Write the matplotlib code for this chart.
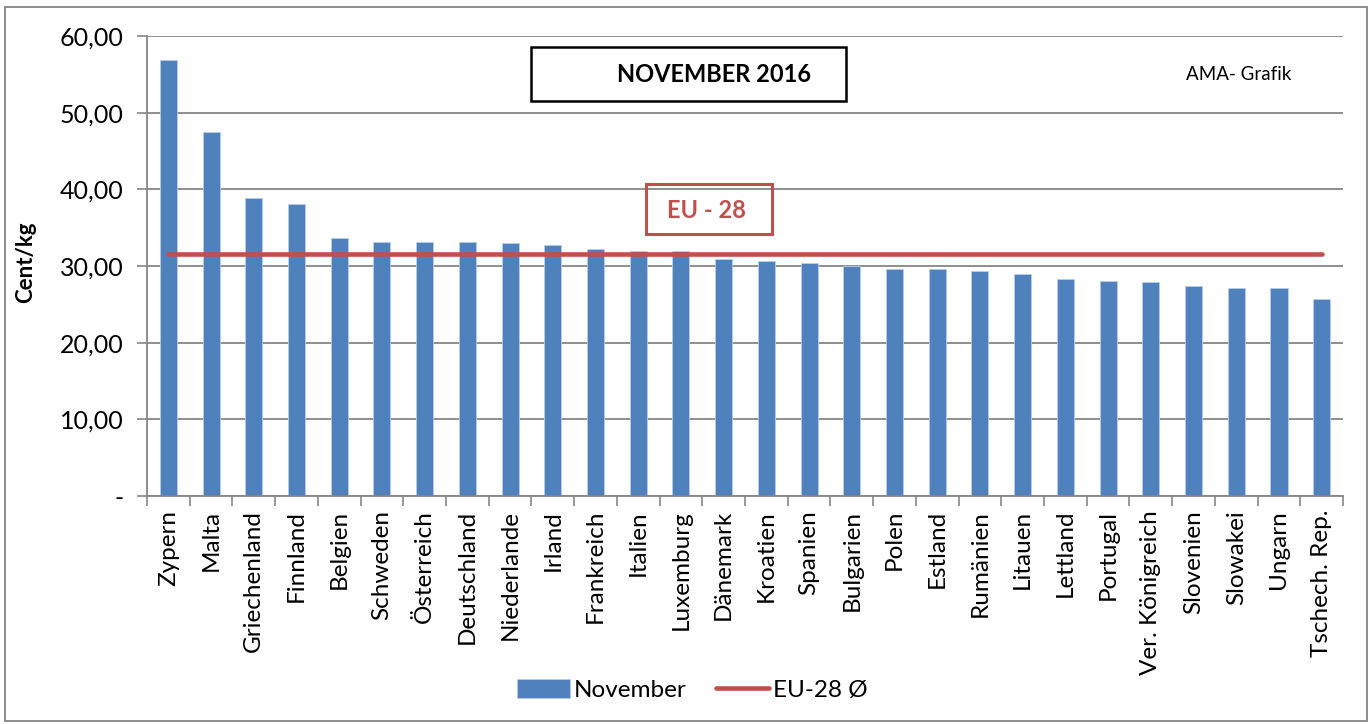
import numpy as np
import matplotlib.pyplot as plt
from matplotlib.patches import Rectangle

plt.rcParams['font.family'] = ['Lato', 'DejaVu Sans']

# Länder und Preise (Cent/kg), November 2016
laender = ['Zypern', 'Malta', 'Griechenland', 'Finnland', 'Belgien', 'Schweden',
           'Österreich', 'Deutschland', 'Niederlande', 'Irland', 'Frankreich',
           'Italien', 'Luxemburg', 'Dänemark', 'Kroatien', 'Spanien', 'Bulgarien',
           'Polen', 'Estland', 'Rumänien', 'Litauen', 'Lettland', 'Portugal',
           'Ver. Königreich', 'Slovenien', 'Slowakei', 'Ungarn', 'Tschech. Rep.']
november = [56.87, 47.50, 38.87, 38.04, 33.70, 33.09, 33.09, 33.09, 33.00, 32.74,
            32.26, 32.00, 31.90, 30.91, 30.70, 30.39, 29.96, 29.57, 29.57, 29.39,
            28.91, 28.26, 28.04, 27.87, 27.39, 27.09, 27.09, 25.70]
eu_mittel = 31.6
yticks = [0, 10, 20, 30, 40, 50, 60]
ytick_labels = ['-', '10,00', '20,00', '30,00', '40,00', '50,00', '60,00']

blau = '#4F81BD'
rot = '#C0504D'
grau = '#868686'

fig = plt.figure(figsize=(13.71, 7.24), dpi=100)
ax = fig.add_axes([0.1072, 0.3149, 0.8724, 0.6354])

x = np.arange(len(laender))
balken = ax.bar(x, november, width=0.4, color=blau, edgecolor='#B9CDE5',
                linewidth=0.6, label='November', zorder=2)
linie, = ax.plot([x[0], x[-1]], [eu_mittel, eu_mittel], color=rot, linewidth=3.3,
                 solid_capstyle='round', label='EU-28 Ø', zorder=3)

ax.set_xlim(-0.5, len(laender) - 0.5)
ax.set_ylim(0, 60)
ax.set_yticks(yticks)
ax.set_yticklabels(ytick_labels, fontsize=18)
ax.set_xticks(x)
ax.set_xticklabels(laender, rotation=90, fontsize=17.5)
ax.tick_params(axis='x', length=0, pad=10)
ax.set_xticks(np.arange(-0.5, len(laender), 1), minor=True)
ax.tick_params(axis='x', which='minor', length=7, color=grau, width=1.2)
ax.tick_params(axis='y', length=7, color=grau, width=1.2, pad=10)
ax.grid(axis='y', color=grau, linewidth=1.3, zorder=0)
ax.set_axisbelow(True)
for s in ['top', 'right']:
    ax.spines[s].set_visible(False)
for s in ['left', 'bottom']:
    ax.spines[s].set_color(grau)
    ax.spines[s].set_linewidth(1.3)

fig.text(26 / 1371, 1 - 262 / 724, 'Cent/kg', rotation=90, fontsize=16,
         fontweight='bold', ha='center', va='center')

# Titelbox
fig.patches.append(Rectangle((531 / 1371, 1 - 101 / 724), 315 / 1371, 54 / 724,
                             transform=fig.transFigure, fill=False,
                             edgecolor='black', linewidth=1.8))
fig.text(714 / 1371, 1 - 74 / 724, 'NOVEMBER 2016', fontsize=17, fontweight='bold',
         ha='center', va='center')

# EU-28 Box
fig.patches.append(Rectangle((646 / 1371, 1 - 234 / 724), 126 / 1371, 50 / 724,
                             transform=fig.transFigure, fill=False,
                             edgecolor=rot, linewidth=2.2))
fig.text(706 / 1371, 1 - 211 / 724, 'EU - 28', fontsize=17, fontweight='bold',
         color=rot, ha='center', va='center')

fig.text(1239 / 1371, 1 - 75 / 724, 'AMA- Grafik', fontsize=13.5, ha='center',
         va='center')

# Rahmen
fig.patches.append(Rectangle((5 / 1371, 3 / 724), 1362 / 1371, 714 / 724,
                             transform=fig.transFigure, fill=False,
                             edgecolor=grau, linewidth=1.3))

fig.legend([balken, linie], ['November', 'EU-28 Ø'], loc='center',
           bbox_to_anchor=(692 / 1371, 1 - 690 / 724), ncol=2,
           frameon=False, fontsize=17.5, handlelength=2.2, handleheight=0.8,
           columnspacing=1.2, handletextpad=0.15)

fig.savefig('out.png', dpi=100)
